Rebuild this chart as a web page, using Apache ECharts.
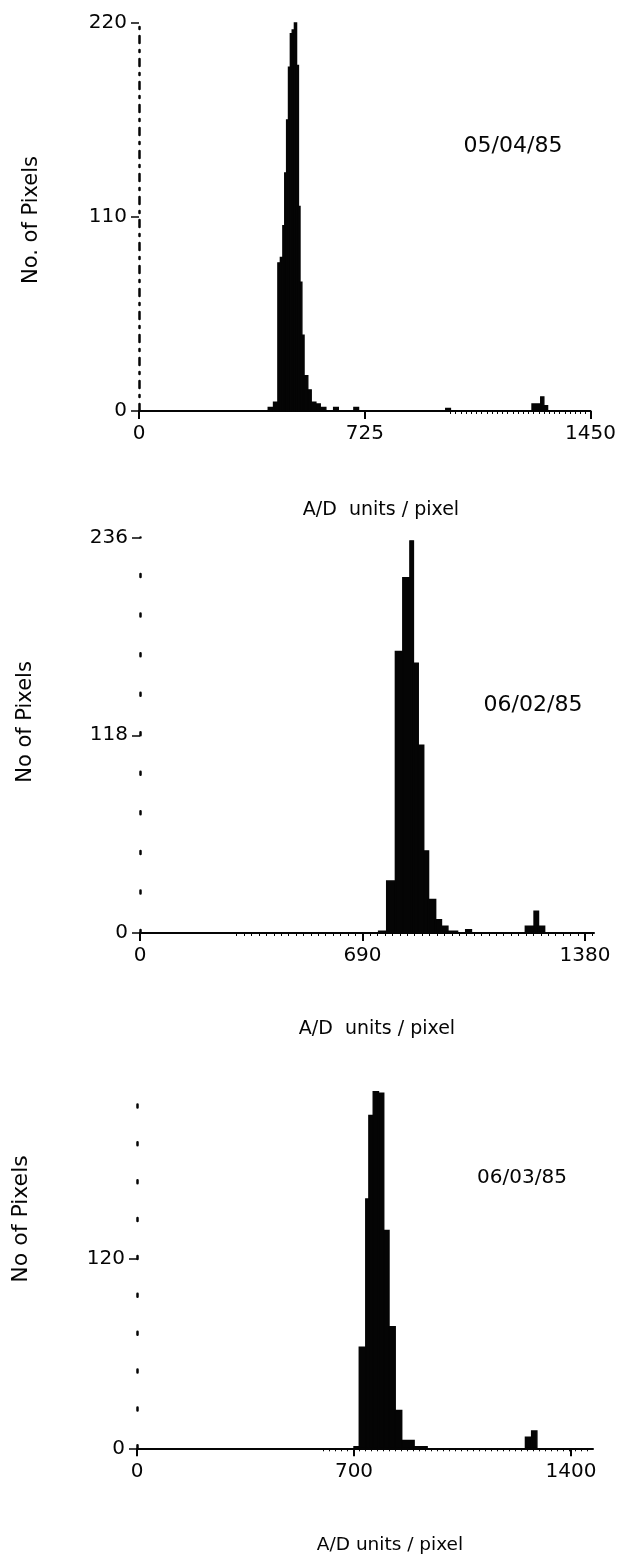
<!DOCTYPE html>
<html>
<head>
<meta charset="utf-8">
<script src="https://cdn.jsdelivr.net/npm/echarts@6/dist/echarts.min.js"></script>
<style>
  html, body { margin: 0; padding: 0; background: #fff; }
  #chart { width: 619px; height: 1561px; }
</style>
</head>
<body>
<div id="chart"></div>
<script>
// Histograms of A/D units per pixel for three acquisition dates.
// Each bin: lower edge, upper edge (A/D units) and pixel count.

const dates = ['05/04/85', '06/02/85', '06/03/85'];

// 05/04/85
const p1Lo    = [415, 432, 446, 454, 462, 468, 474, 480, 486, 492, 499, 506, 512, 517, 523, 530, 542, 553, 568, 582, 625, 690, 985, 1262, 1290, 1300];
const p1Hi    = [432, 446, 454, 462, 468, 474, 480, 486, 492, 499, 506, 512, 517, 523, 530, 542, 553, 568, 582, 600, 640, 705, 1000, 1290, 1300, 1312];
const p1Count = [2, 5, 84, 87, 105, 135, 165, 195, 214, 216, 220, 196, 116, 73, 43, 20, 12, 5, 4, 2, 2, 2, 1.5, 4, 8, 3];

// 06/02/85
const p2Lo    = [740, 765, 792, 815, 837, 848, 863, 880, 895, 917, 935, 955, 1010, 1195, 1222, 1236];
const p2Hi    = [765, 792, 815, 837, 848, 863, 880, 895, 917, 935, 955, 985, 1028, 1222, 1236, 1255];
const p2Count = [1, 31, 168, 212, 234, 161, 112, 49, 20, 8, 4, 1, 2, 4, 13, 4];

// 06/03/85
const p3Lo    = [700, 717, 738, 748, 762, 779, 796, 813, 833, 854, 894, 1253, 1273];
const p3Hi    = [717, 738, 748, 762, 779, 796, 813, 833, 854, 894, 936, 1273, 1290];
const p3Count = [1, 64, 158, 211, 226, 225, 138, 77, 24, 5, 1, 7, 11];

// Axis tick values
const xTicks = [[0, 725, 1450], [0, 690, 1380], [0, 700, 1400]];
const yTicks = [[0, 110, 220], [0, 118, 236], [0, 120]];

const xNames = ['A/D  units / pixel', 'A/D  units / pixel', 'A/D units / pixel'];
const yNames = ['No. of Pixels', 'No of Pixels', 'No of Pixels'];

const INK = '#050505';
const FONT = '"DejaVu Sans", sans-serif';

const bins = [
  [p1Lo, p1Hi, p1Count],
  [p2Lo, p2Hi, p2Count],
  [p3Lo, p3Hi, p3Count]
].map(([lo, hi, c]) => lo.map((v, i) => [v, hi[i], c[i]]));

// Layout of each panel (px); fine ticks show the plotter's bin marks on the baseline
const layout = [
  { left: 139, top: 23,     width: 455, height: 388,   xMax: 1450, yMax: 220, dash: [7, 7, 2, 7],  fineFrom: 1000, fineStep: 16.7 },
  { left: 140, top: 537.5,  width: 454, height: 395.5, xMax: 1408, yMax: 236, dash: [3, 36.55],    fineFrom: 300,  fineStep: 23 },
  { left: 137, top: 1088.5, width: 456, height: 359.8, xMax: 1471, yMax: 228, dash: [3, 34.87],    fineFrom: 600,  fineStep: 19.4 }
];

function fineTicks(l) {
  const out = [];
  for (let v = l.fineFrom; v <= l.xMax; v += l.fineStep) out.push(Math.round(v * 10) / 10);
  return out;
}

function histItem(params, api) {
  const lo = api.value(0), hi = api.value(1), n = api.value(2);
  const a = api.coord([lo, n]);
  const b = api.coord([hi, 0]);
  return {
    type: 'rect',
    shape: { x: a[0], y: a[1], width: b[0] - a[0], height: b[1] - a[1] },
    style: { fill: INK, stroke: INK, lineWidth: 1.4 }
  };
}

const grid = layout.map(l => ({ left: l.left, top: l.top, width: l.width, height: l.height }));

const plain = v => String(v);

const xAxis = [];
layout.forEach((l, i) => {
  xAxis.push({
    type: 'value', gridIndex: i, min: 0, max: l.xMax, position: 'bottom',
    interval: xTicks[i][1],
    axisLine: { show: true, onZero: false, lineStyle: { color: INK, width: 2 } },
    axisTick: { show: true, customValues: xTicks[i], length: 8, lineStyle: { color: INK, width: 2 } },
    axisLabel: { customValues: xTicks[i], formatter: plain, margin: 13, color: INK, fontFamily: FONT, fontSize: 20 },
    splitLine: { show: false }
  });
});
// Companion axes carrying only the small baseline marks
layout.forEach((l, i) => {
  xAxis.push({
    type: 'value', gridIndex: i, min: 0, max: l.xMax, position: 'top', offset: -l.height,
    axisLine: { show: false },
    axisTick: { show: true, inside: true, customValues: fineTicks(l), length: 3, lineStyle: { color: INK, width: 1 } },
    axisLabel: { show: false },
    splitLine: { show: false }
  });
});

const yAxis = layout.map((l, i) => ({
  type: 'value', gridIndex: i, min: 0, max: l.yMax,
  interval: yTicks[i][1],
  axisLine: { show: true, lineStyle: { color: INK, width: 2.5, type: l.dash } },
  axisTick: { show: true, customValues: yTicks[i], length: 8, lineStyle: { color: INK, width: 1.5 } },
  axisLabel: { customValues: yTicks[i], formatter: plain, margin: 12, color: INK, fontFamily: FONT, fontSize: 20 },
  splitLine: { show: false }
}));

const series = bins.map((d, i) => ({
  type: 'custom', xAxisIndex: i, yAxisIndex: i,
  renderItem: histItem,
  encode: { x: [0, 1], y: 2 },
  data: d,
  silent: true
}));

function label(text, x, y, size, rot) {
  return {
    type: 'text', x: x, y: y, rotation: rot || 0, silent: true,
    style: {
      text: text, font: size + 'px ' + FONT, fill: INK,
      align: 'center', verticalAlign: 'middle',
      textAlign: 'center', textVerticalAlign: 'middle'
    }
  };
}

const graphic = [
  label(dates[0], 513, 146, 22),
  label(dates[1], 533, 705, 22),
  label(dates[2], 522, 1178, 20),
  label(yNames[0], 32, 220, 21, Math.PI / 2),
  label(yNames[1], 26, 722, 21, Math.PI / 2),
  label(yNames[2], 21, 1219, 22, Math.PI / 2),
  label(xNames[0], 381, 510, 19),
  label(xNames[1], 377, 1029, 19),
  label(xNames[2], 390, 1545, 18.5)
];

const chart = echarts.init(document.getElementById('chart'), null, { renderer: 'canvas' });
chart.setOption({
  backgroundColor: '#fff',
  animation: false,
  grid, xAxis, yAxis, series, graphic
});
</script>
</body>
</html>
